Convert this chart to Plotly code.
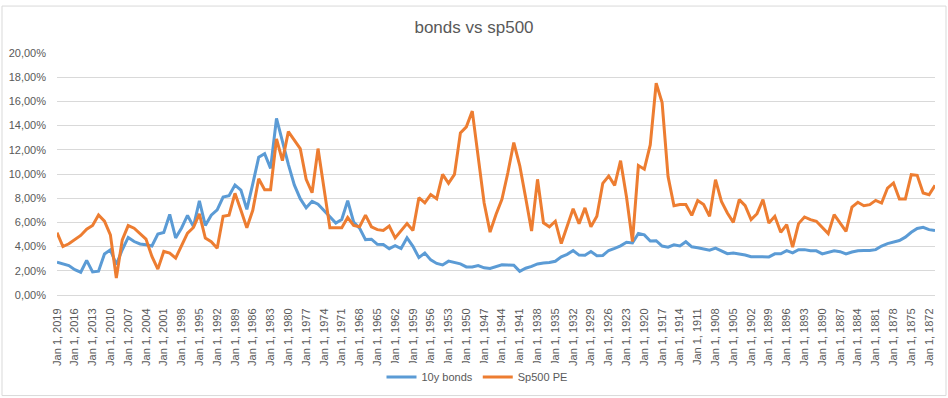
import plotly.graph_objects as go

years = list(range(2019, 1870, -1))
categories = [f"Jan 1, {y}" for y in years]

bonds_10y = [
    2.71, 2.58, 2.43, 2.09, 1.88, 2.86, 1.91, 1.97, 3.39, 3.73,
    2.52, 3.74, 4.76, 4.42, 4.22, 4.15, 4.05, 5.04, 5.16, 6.66,
    4.72, 5.54, 6.58, 5.65, 7.78, 5.75, 6.60, 7.03, 8.09, 8.21,
    9.09, 8.67, 7.08, 9.19, 11.38, 11.67, 10.46, 14.59, 12.57, 10.80,
    9.10, 7.96, 7.21, 7.74, 7.50, 6.99, 6.46, 5.95, 6.24, 7.79,
    6.04, 5.53, 4.58, 4.61, 4.19, 4.17, 3.83, 4.08, 3.84, 4.72,
    4.02, 3.09, 3.46, 2.90, 2.61, 2.48, 2.80, 2.68, 2.57, 2.32,
    2.31, 2.44, 2.25, 2.19, 2.37, 2.49, 2.47, 2.46, 1.95, 2.21,
    2.36, 2.57, 2.65, 2.68, 2.79, 3.16, 3.36, 3.68, 3.30, 3.29,
    3.60, 3.25, 3.27, 3.68, 3.86, 4.06, 4.36, 4.30, 5.09, 4.97,
    4.46, 4.49, 4.05, 3.95, 4.15, 4.05, 4.40, 3.98, 3.90, 3.80,
    3.70, 3.88, 3.66, 3.42, 3.47, 3.40, 3.30, 3.16, 3.15, 3.15,
    3.15, 3.40, 3.40, 3.66, 3.48, 3.75, 3.75, 3.66, 3.65, 3.40,
    3.50, 3.66, 3.58, 3.39, 3.55, 3.66, 3.67, 3.67, 3.75, 4.05,
    4.25, 4.40, 4.50, 4.78, 5.18, 5.50, 5.60, 5.40, 5.32,
]

sp500_pe = [
    5.15, 4.0, 4.23, 4.56, 4.92, 5.44, 5.75, 6.62, 6.1, 4.97,
    1.4, 4.56, 5.74, 5.52, 5.11, 4.62, 3.19, 2.14, 3.6, 3.46,
    3.05, 4.1, 5.11, 5.58, 6.7, 4.7, 4.4, 3.87, 6.5, 6.6,
    8.4, 7.0, 5.55, 7.0, 9.6, 8.7, 8.7, 12.9, 11.1, 13.5,
    12.8, 12.1, 9.56, 8.45, 12.1, 9.0, 5.55, 5.55, 5.55, 6.4,
    5.75, 5.64, 6.6, 5.64, 5.4, 5.33, 5.7, 4.72, 5.36, 5.9,
    5.33, 8.04, 7.62, 8.3, 7.96, 9.97, 9.23, 9.97, 13.4, 13.9,
    15.2, 11.5, 7.6, 5.2, 6.65, 7.9, 10.1, 12.6, 10.7, 8.04,
    5.28, 9.56, 5.97, 5.64, 6.1, 4.25, 5.7, 7.13, 5.9, 7.2,
    5.64, 6.5, 9.23, 9.83, 9.06, 11.1, 8.1, 4.42, 10.7, 10.4,
    12.4, 17.5, 15.9, 9.8, 7.38, 7.47, 7.47, 6.58, 7.8, 7.47,
    6.5, 9.53, 7.74, 6.78, 6.0, 7.88, 7.38, 6.23, 6.72, 7.88,
    5.95, 6.5, 5.18, 5.81, 3.95, 5.9, 6.45, 6.23, 6.09, 5.54,
    5.07, 6.64, 5.95, 5.26, 7.27, 7.66, 7.38, 7.47, 7.82, 7.6,
    8.84, 9.26, 7.93, 7.93, 9.94, 9.89, 8.43, 8.29, 9.06,
]

y_ticks = [0, 0.02, 0.04, 0.06, 0.08, 0.10, 0.12, 0.14, 0.16, 0.18, 0.20]

FONT = "Liberation Sans"
GREY = "#595959"

fig = go.Figure()
fig.add_trace(go.Scatter(
    x=categories, y=[v / 100 for v in bonds_10y], mode="lines", name="10y bonds",
    line=dict(color="#5B9BD5", width=3),
))
fig.add_trace(go.Scatter(
    x=categories, y=[v / 100 for v in sp500_pe], mode="lines", name="Sp500 PE",
    line=dict(color="#ED7D31", width=3),
))

fig.update_layout(
    width=948, height=398,
    margin=dict(l=57, r=13, t=53, b=103),
    paper_bgcolor="white", plot_bgcolor="white",
    separators=",.",
    font=dict(family=FONT, size=11, color=GREY),
    title=dict(text="bonds vs sp500", x=0.5, xanchor="center", y=1 - 27 / 398,
               yanchor="middle", font=dict(family=FONT, size=17, color=GREY)),
    showlegend=True,
    legend=dict(orientation="h", xref="container", yref="container",
                x=477 / 948, xanchor="center", y=1 - 377 / 398, yanchor="middle",
                font=dict(family=FONT, size=11, color=GREY), itemwidth=30),
    xaxis=dict(
        type="category", range=[0, len(categories) - 1], automargin=False,
        tickmode="array", tickvals=categories[::3], ticktext=categories[::3],
        tickangle=-90, showgrid=False, showline=True, linecolor="#D9D9D9",
        linewidth=1, ticks="", ticklabelstandoff=8,
        tickfont=dict(family=FONT, size=11, color=GREY), zeroline=False,
    ),
    yaxis=dict(
        range=[0, 0.2], tickvals=y_ticks, tickformat=".2%", automargin=False,
        showgrid=True, gridcolor="#D9D9D9", gridwidth=1, zeroline=False,
        showline=False, ticks="", ticklabelstandoff=10,
        tickfont=dict(family=FONT, size=11, color=GREY),
    ),
    shapes=[
        dict(type="rect", xref="paper", yref="paper",
             x0=(2 - 57) / 878, x1=(946 - 57) / 878,
             y0=(295.3 - 396) / 242.3, y1=(295.3 - 6) / 242.3,
             line=dict(color="#D9D9D9", width=1), fillcolor="rgba(0,0,0,0)",
             layer="below"),
    ],
)

fig.write_html(
    "out.html",
    config={"displayModeBar": False},
    post_script=(
        "document.documentElement.style.margin='0';"
        "document.documentElement.style.overflow='hidden';"
        "document.body.style.margin='0';"
        "document.body.style.overflow='hidden';"
        "document.body.style.height='398px';"
    ),
)
